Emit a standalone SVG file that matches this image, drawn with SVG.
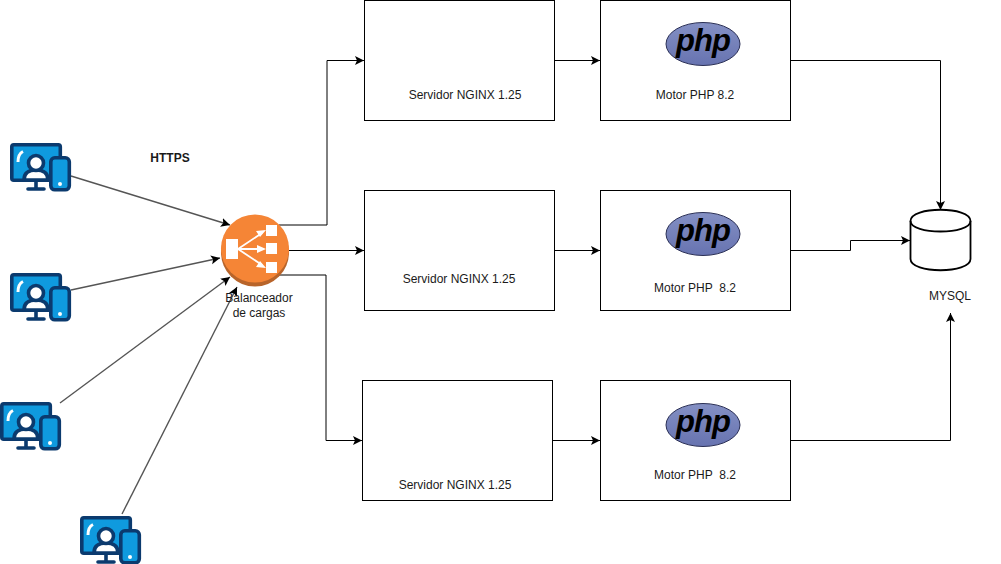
<svg xmlns="http://www.w3.org/2000/svg" width="1001" height="564" viewBox="0 0 1001 564">
<style>
text{font-family:"Liberation Sans",Arial,sans-serif;font-size:12px;fill:#1a1a1a;text-anchor:middle}
.box{fill:#fff;stroke:#000;stroke-width:1}
.c{fill:none;stroke:#000;stroke-width:1}
.g{fill:none;stroke:#555;stroke-width:1.400}
.php{font-family:"Liberation Sans",sans-serif;font-size:31px;font-weight:bold;font-style:italic;fill:#000;letter-spacing:-1px}
</style>
<defs>
<marker id="a" markerWidth="10" markerHeight="10" refX="9" refY="4.500" orient="auto" markerUnits="userSpaceOnUse"><path d="M0 0L9 4.500L0 9L2 4.500Z" fill="#000"/></marker>
<linearGradient id="pg" x1="0" y1="0" x2="0" y2="1"><stop offset="0" stop-color="#8490c4"/><stop offset="1" stop-color="#6773b0"/></linearGradient>
<g id="dev">
<rect x="1.800" y="1.800" width="48.500" height="35.500" rx="2" fill="#0f9ade" stroke="#0b3a6e" stroke-width="3.600"/>
<path d="M26 36V45M18 46H34" stroke="#0b3a6e" stroke-width="3.600" fill="none" stroke-linecap="round"/>
<path d="M14 37C14 29 20 27 26 27C32 27 38 29 38 37Z" fill="#fff" stroke="#0b3a6e" stroke-width="3.600"/>
<circle cx="26" cy="20" r="7.500" fill="#fff" stroke="#0b3a6e" stroke-width="3.600"/>
<path d="M8 19C8 13 10 10 13 8.500" stroke="#fff" stroke-width="3" fill="none"/>
<rect x="40.800" y="14.800" width="18.500" height="32" rx="4" fill="#0f9ade" stroke="#0b3a6e" stroke-width="3.600"/>
<circle cx="50" cy="41" r="2" fill="#fff"/>
</g>
<g id="phpl">
<ellipse cx="0" cy="0" rx="37" ry="21.500" fill="url(#pg)" stroke="#2a2f55" stroke-width="1"/>
<text class="php" x="0" y="7">php</text>
</g>
</defs>

<g id="connectors">
<path class="g" d="M71 176L230 225" marker-end="url(#a)"/>
<path class="g" d="M71 290L220 258" marker-end="url(#a)"/>
<path class="g" d="M60 403L230 277" marker-end="url(#a)"/>
<path class="g" d="M122 514L237 287" marker-end="url(#a)"/>
<path class="c" d="M279 225H327V60.500H364" marker-end="url(#a)"/>
<path class="c" d="M289 250.500H364" marker-end="url(#a)"/>
<path class="c" d="M279 275H326V440.500H362" marker-end="url(#a)"/>
<path class="c" d="M554 60.500H600" marker-end="url(#a)"/>
<path class="c" d="M554 250.500H600" marker-end="url(#a)"/>
<path class="c" d="M552 440.500H600" marker-end="url(#a)"/>
<path class="c" d="M790 60.500H940.500V210" marker-end="url(#a)"/>
<path class="c" d="M790 250.500H850.500V240.500H910" marker-end="url(#a)"/>
<path class="c" d="M790 440.500H950.500V313" marker-end="url(#a)"/>
</g>

<g id="client1"><use href="#dev" x="10" y="143"/></g>
<g id="client2"><use href="#dev" x="10" y="273"/></g>
<g id="client3"><use href="#dev" x="0" y="402"/></g>
<g id="client4"><use href="#dev" x="80" y="516"/></g>
<g id="https"><text x="170" y="162" style="font-weight:bold">HTTPS</text></g>

<g id="balancer">
<circle cx="255" cy="252.500" r="34" fill="#b8642a"/>
<circle cx="255" cy="248.500" r="34" fill="#f58536"/>
<rect x="226" y="239" width="12" height="20" fill="#fff"/>
<path d="M238 249L262 233M238 249H262M238 249L262 265" stroke="#fff" stroke-width="1.800"/>
<path d="M266 230L256 231L260 237ZM266 249L257 245V253ZM266 268L256 267L260 261Z" fill="#fff"/>
<rect x="266" y="225" width="11" height="11" fill="#fff"/>
<rect x="266" y="243" width="11" height="11" fill="#fff"/>
<rect x="266" y="262" width="11" height="11" fill="#fff"/>
<text x="259" y="302">Balanceador</text>
<text x="259" y="317">de cargas</text>
</g>

<g id="nginx1"><rect class="box" x="364.500" y="0.500" width="190" height="120"/><text x="465" y="99">Servidor NGINX 1.25</text></g>
<g id="nginx2"><rect class="box" x="364.500" y="190.500" width="190" height="120"/><text x="459" y="283">Servidor NGINX 1.25</text></g>
<g id="nginx3"><rect class="box" x="362.500" y="380.500" width="190" height="120"/><text x="455" y="489">Servidor NGINX 1.25</text></g>

<g id="php1"><rect class="box" x="600.500" y="0.500" width="190" height="120"/><use href="#phpl" x="703" y="44"/><text x="695" y="99">Motor PHP 8.2</text></g>
<g id="php2"><rect class="box" x="600.500" y="190.500" width="190" height="120"/><use href="#phpl" x="703" y="234"/><text x="695" y="292" xml:space="preserve">Motor PHP  8.2</text></g>
<g id="php3"><rect class="box" x="600.500" y="380.500" width="190" height="120"/><use href="#phpl" x="703" y="425"/><text x="695" y="479" xml:space="preserve">Motor PHP  8.2</text></g>

<g id="mysql">
<path d="M910.500 221C910.500 206 970.500 206 970.500 221V259C970.500 274 910.500 274 910.500 259Z" fill="#fff" stroke="#000" stroke-width="1.800"/>
<path d="M910.500 221C910.500 235 970.500 235 970.500 221" fill="none" stroke="#000" stroke-width="1.800"/>
<text x="950" y="300">MYSQL</text>
</g>
</svg>
